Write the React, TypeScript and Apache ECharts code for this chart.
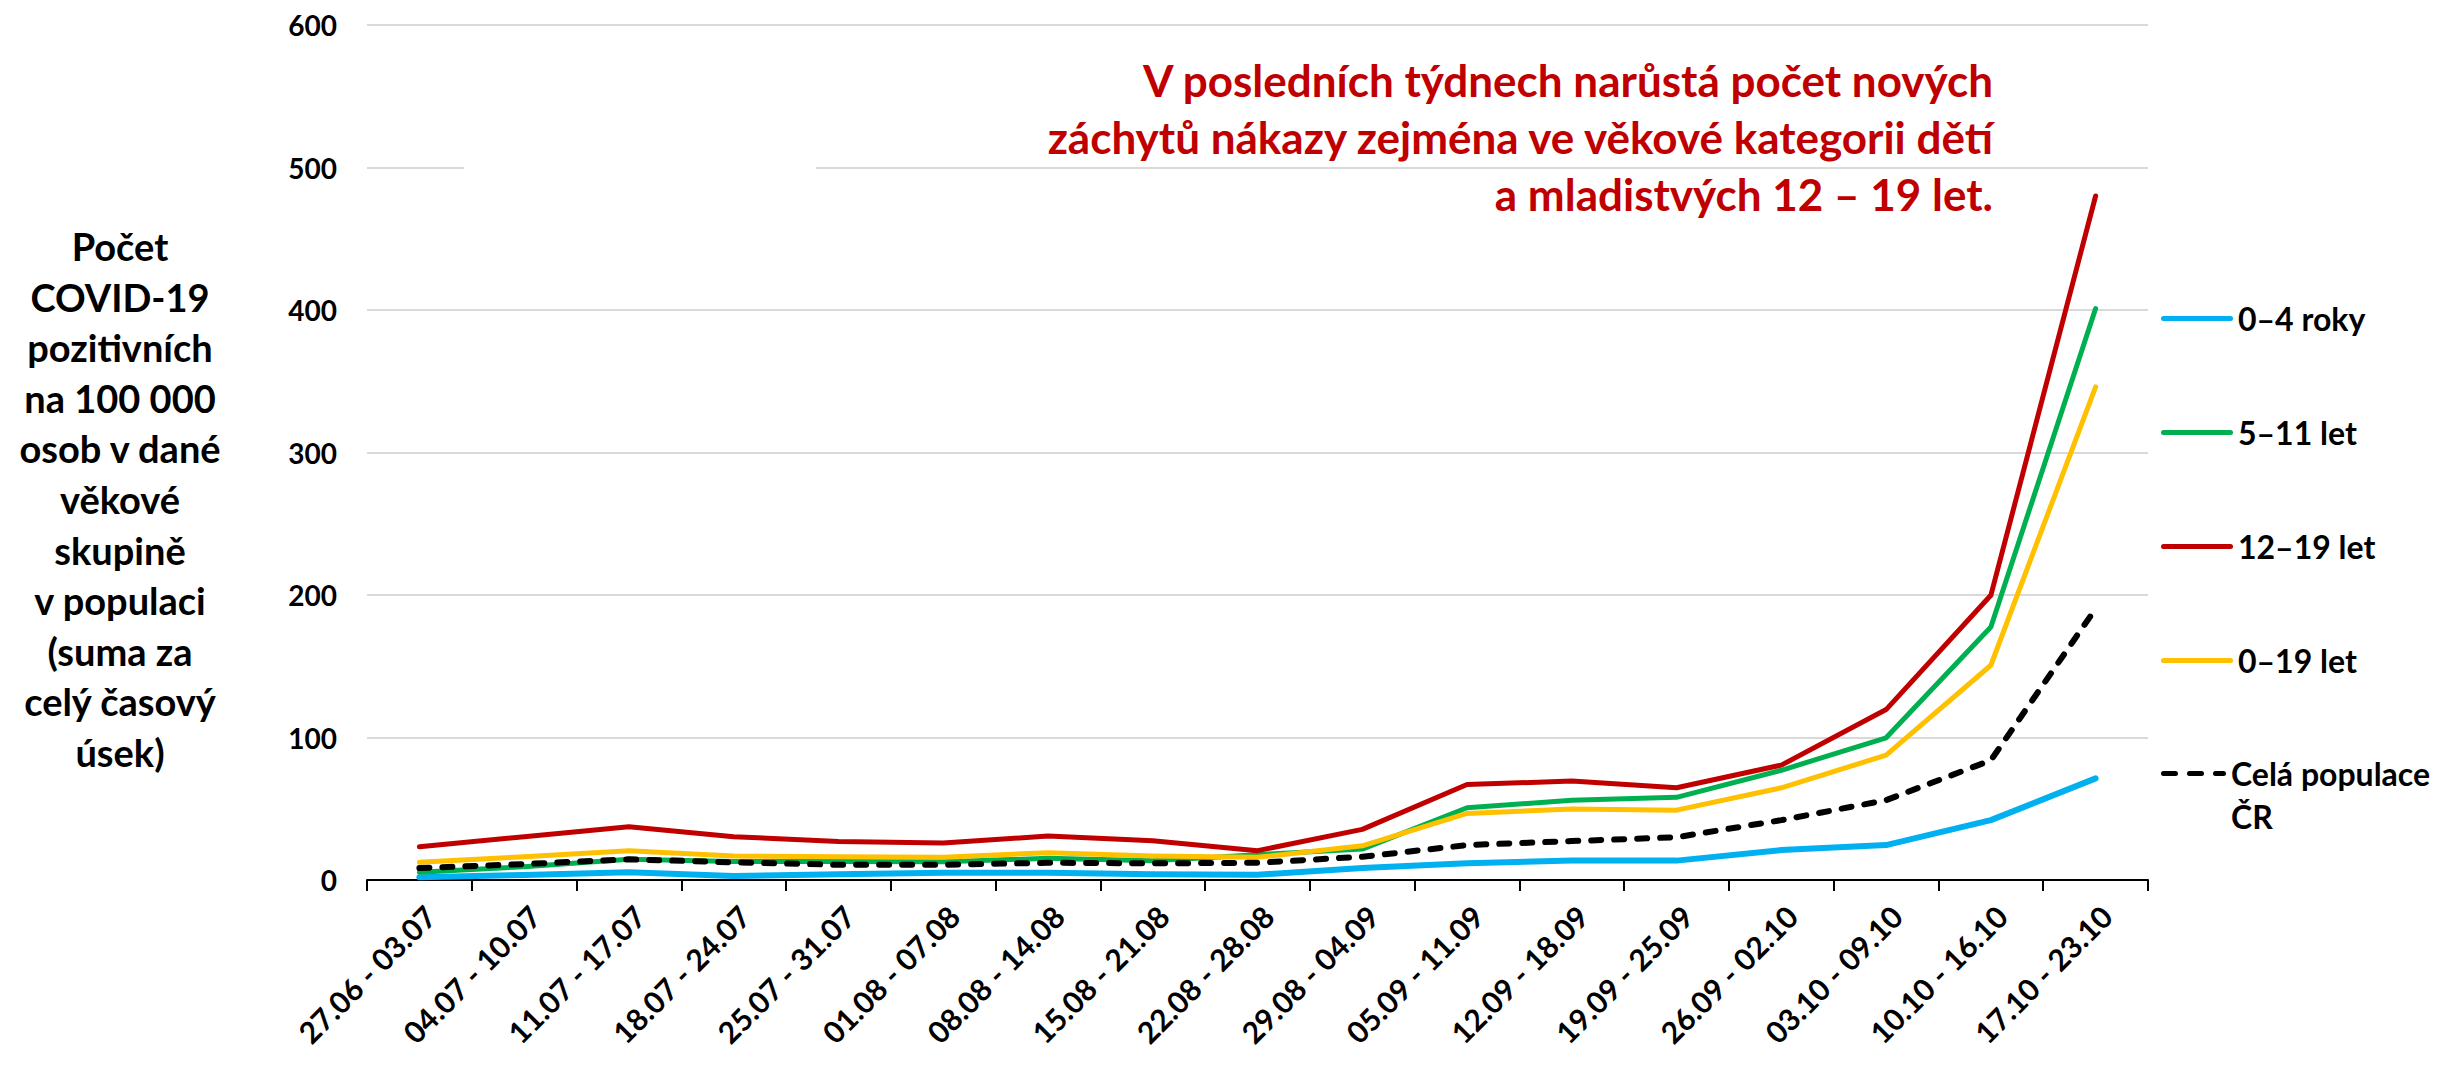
import React, { useEffect, useRef } from "react";
import * as echarts from "echarts";

const categories = [
  "27.06 - 03.07", "04.07 - 10.07", "11.07 - 17.07", "18.07 - 24.07", "25.07 - 31.07",
  "01.08 - 07.08", "08.08 - 14.08", "15.08 - 21.08", "22.08 - 28.08", "29.08 - 04.09",
  "05.09 - 11.09", "12.09 - 18.09", "19.09 - 25.09", "26.09 - 02.10", "03.10 - 09.10",
  "10.10 - 16.10", "17.10 - 23.10",
];

const age0to4 = [1.9, 3.5, 5.4, 2.8, 4.0, 5.1, 5.1, 4.0, 3.7, 8.4, 11.7, 13.6, 13.6, 21, 24.5, 42, 71.3];
const age5to11 = [5.4, 9.3, 14.5, 13, 13, 12.8, 15.2, 13.5, 17.8, 21.7, 50.7, 56, 58, 77, 99.8, 177.6, 401];
const age12to19 = [23.4, 30.4, 37.4, 30.4, 27.1, 25.9, 30.8, 27.6, 20.6, 35.5, 67, 69.4, 64.7, 80.6, 119.6, 199.8, 480];
const age0to19 = [12.4, 16.4, 20.6, 16.8, 16.4, 15.9, 19.2, 16.8, 15.9, 24, 46.7, 49.8, 49, 64.7, 87.6, 150.7, 346];
const wholePop = [8.4, 11.2, 14.5, 12.4, 10.7, 10.7, 12.1, 11.7, 12.1, 16.3, 24.5, 27.3, 30, 42, 56, 84, 190.4];

const seriesNames = ["0–4 roky", "5–11 let", "12–19 let", "0–19 let", "Celá populace ČR"];
const seriesColors = ["#00B0F0", "#00B050", "#C00000", "#FFC000", "#000000"];

const yTitle =
  "Počet\nCOVID-19\npozitivních\nna 100 000\nosob v dané\nvěkové\nskupině\nv populaci\n(suma za\ncelý časový\núsek)";
const annotation =
  "V posledních týdnech narůstá počet nových\nzáchytů nákazy zejména ve věkové kategorii dětí\na mladistvých 12 – 19 let.";

const FONT = "Lato, 'Noto Sans', sans-serif";

const solidIcon = "path://M2.5,0h67a2.5,2.5 0 0 1 0,5h-67a2.5,2.5 0 0 1 0,-5z";
const dashIcon =
  "path://M2.5,0h12a2.5,2.5 0 0 1 0,5h-12a2.5,2.5 0 0 1 0,-5z M28.5,0h12a2.5,2.5 0 0 1 0,5h-12a2.5,2.5 0 0 1 0,-5z M54.5,0h8a2.5,2.5 0 0 1 0,5h-8a2.5,2.5 0 0 1 0,-5z";

export default function App() {
  const ref = useRef<HTMLDivElement>(null);
  useEffect(() => {
    if (!ref.current) return;
    const chart = echarts.init(ref.current, null, { renderer: "svg" });
    const data = [age0to4, age5to11, age12to19, age0to19, wholePop];
    const legendText = {
      fontSize: 32,
      fontWeight: "bold",
      color: "#000",
      lineHeight: 43,
      fontFamily: FONT,
    };
    const option: any = {
      animation: false,
      backgroundColor: "#ffffff",
      textStyle: { fontFamily: FONT },
      grid: { left: 367, right: 308, top: 25, bottom: 192, containLabel: false },
      xAxis: {
        type: "category",
        data: categories,
        boundaryGap: true,
        axisLine: { show: true, lineStyle: { color: "#000", width: 2 } },
        axisTick: { show: true, length: 11, lineStyle: { color: "#000", width: 2 } },
        axisLabel: {
          interval: 0,
          rotate: 45,
          margin: 20,
          fontSize: 30,
          fontWeight: "bold",
          color: "#000",
          verticalAlign: "top",
          fontFamily: FONT,
        },
        splitLine: { show: false },
      },
      yAxis: {
        type: "value",
        min: 0,
        max: 600,
        interval: 100,
        axisLine: { show: false },
        axisTick: { show: false },
        axisLabel: { fontSize: 28, fontWeight: "bold", color: "#000", margin: 30, fontFamily: FONT },
        splitLine: { show: true, lineStyle: { color: "#D9D9D9", width: 2 } },
      },
      legend: [
        {
          data: seriesNames.slice(0, 4).map((n, i) => ({
            name: n,
            icon: solidIcon,
            itemStyle: { color: seriesColors[i] },
          })),
          orient: "vertical",
          left: 2156,
          top: 292,
          itemWidth: 72,
          itemHeight: 5,
          itemGap: 71,
          textStyle: legendText,
        },
        {
          data: [{ name: seriesNames[4], icon: dashIcon, itemStyle: { color: "#000" } }],
          orient: "vertical",
          left: 2156,
          top: 704,
          itemWidth: 65,
          itemHeight: 5,
          formatter: () => "\u00a0\nCelá populace\nČR",
          textStyle: legendText,
        },
      ],
      graphic: [
        {
          type: "rect",
          z: 1,
          shape: { x: 464, y: 160, width: 352, height: 15 },
          style: { fill: "#ffffff" },
        },
        {
          type: "text",
          z: 5,
          x: 1993,
          y: 137,
          style: {
            text: annotation,
            fill: "#C00000",
            font: `bold 44px ${FONT}`,
            lineHeight: 57,
            align: "right",
            verticalAlign: "middle",
          },
        },
        {
          type: "text",
          z: 5,
          x: 120,
          y: 499,
          style: {
            text: yTitle,
            fill: "#000",
            font: `bold 38px ${FONT}`,
            lineHeight: 50.6,
            align: "center",
            verticalAlign: "middle",
          },
        },
      ],
      series: data.map((d, i) => ({
        name: seriesNames[i],
        type: "line",
        data: d,
        symbol: "none",
        showSymbol: false,
        color: seriesColors[i],
        lineStyle: {
          color: seriesColors[i],
          width: i === 0 || i === 4 ? 6 : 5,
          type: i === 4 ? [10, 13] : "solid",
          cap: "round",
          join: "round",
        },
        itemStyle: { color: seriesColors[i] },
        z: i === 4 ? 4 : 2,
      })),
    };
    chart.setOption(option);
    return () => chart.dispose();
  }, []);
  return (
    <div
      ref={ref}
      style={{ position: "absolute", left: 0, top: 0, width: 2456, height: 1072, background: "#fff" }}
    />
  );
}
